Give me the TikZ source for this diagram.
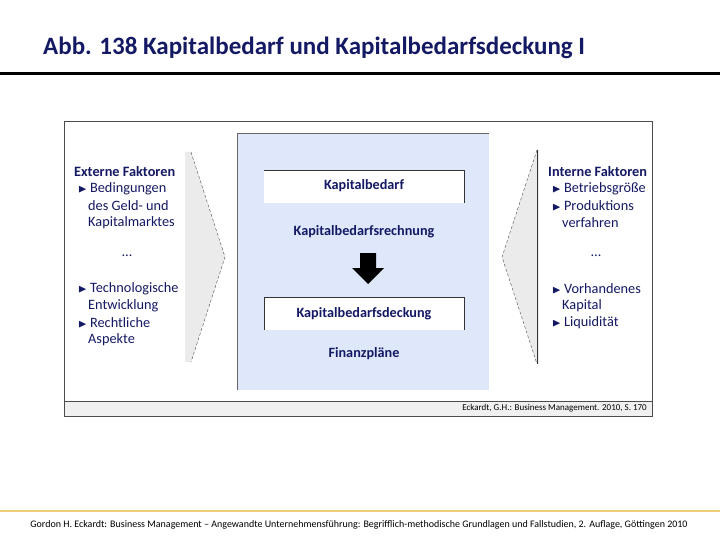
\documentclass[tikz,border=0pt]{standalone}
\usepackage{amssymb}
\usepackage{fontspec}
\setmainfont{Carlito}
\usetikzlibrary{positioning, arrows.meta}
\definecolor{NavyText}{RGB}{20, 25, 100}
\definecolor{PaleBlue}{RGB}{222, 232, 250}
\definecolor{Chevron}{RGB}{235, 235, 235}
\definecolor{FootBar}{RGB}{240, 205, 120}
\tikzset{
  item/.style={anchor=west, text=NavyText, font=\fontsize{14.3}{16}\selectfont, inner sep=0pt},
  head/.style={item, font=\fontsize{14.3}{16}\selectfont\bfseries},
  mid/.style={text=NavyText, font=\fontsize{14.2}{16}\selectfont\bfseries, inner sep=0pt},
}
\newcommand{\tri}{\raisebox{0.5pt}{\scalebox{0.8}{$\blacktriangleright$}}\hspace{3pt}}
\begin{document}
\begin{tikzpicture}[x=1pt, y=-1pt]
    \useasboundingbox (0,0) rectangle (720,540);
    % Titel
    \node[anchor=west, text=NavyText, font=\fontsize{25}{28}\selectfont\bfseries, inner sep=0pt] (title) at (43,48) {Abb. 138 Kapitalbedarf und Kapitalbedarfsdeckung I};
    \draw[line width=3pt] (0,74) -- (720,74);

    % Rahmen
    \draw[fill=white, draw=black!70, line width=1pt] (64,122) rectangle (652,416);
    \draw[fill=black!6, draw=black!70, line width=1pt] (64,401) rectangle (652,416);
    \node[anchor=east, font=\fontsize{9}{10}\selectfont, inner sep=0pt] (src) at (647,408.5) {Eckardt, G.H.: Business Management. 2010, S. 170};

    % Mitte
    \fill[PaleBlue] (237,133) rectangle (489,390);
    \draw[black!60] (237,390) -- (237,133) -- (489,133);
    \fill[white] (264,170) rectangle (464,203);
    \draw[black!80] (264,170) -- (464,170) -- (464,203);
    \fill[white] (264,297) rectangle (464,330);
    \draw[black!80] (264,330) -- (264,297) -- (464,297) -- (464,330);
    \node[mid] (bedarf) at (364,186) {Kapitalbedarf};
    \node[mid] (rechnung) at (364,232) {Kapitalbedarfsrechnung};
    \node[mid] (deckung) at (364,314) {Kapitalbedarfsdeckung};
    \node[mid] (plaene) at (364,354) {Finanzpläne};
    \fill (360,253) -- (376,253) -- (376,268) -- (384,268) -- (368,284) -- (352,268) -- (360,268) -- cycle;

    % Pfeilformen
    \fill[Chevron] (160,152) -- (191,152) -- (225,257) -- (191,362) -- (160,362) -- cycle;
    \draw[black!70, densely dashed] (191,152) -- (225,257) -- (191,362);
    \fill[Chevron] (537,150) -- (502,257) -- (537,364) -- (560,364) -- (560,150) -- cycle;
    \draw[black!70, densely dashed] (537,150) -- (502,257) -- (537,364);
    \draw[black!80] (537,150) -- (537,364);
    \fill[white] (66,124) rectangle (185,399);
    \fill[white] (539,124) rectangle (650,399);

    % Externe Faktoren
    \node[head] (ext) at (74,172) {Externe Faktoren};
    \node[item] (e1) at (78,189) {\tri Bedingungen};
    \node[item] (e2) at (88,206) {des Geld- und};
    \node[item] (e3) at (88,223) {Kapitalmarktes};
    \node[item] (e4) at (122,256) {\dots};
    \node[item] (e5) at (78,289) {\tri Technologische};
    \node[item] (e6) at (88,306) {Entwicklung};
    \node[item] (e7) at (78,323) {\tri Rechtliche};
    \node[item] (e8) at (88,340) {Aspekte};

    % Interne Faktoren
    \node[head] (int) at (548,172) {Interne Faktoren};
    \node[item] (i1) at (552,189) {\tri Betriebsgröße};
    \node[item] (i2) at (552,206) {\tri Produktions};
    \node[item] (i3) at (562,223) {verfahren};
    \node[item] (i4) at (591,256) {\dots};
    \node[item] (i5) at (552,289) {\tri Vorhandenes};
    \node[item] (i6) at (562,306) {Kapital};
    \node[item] (i7) at (552,323) {\tri Liquidität};

    % Fusszeile
    \draw[FootBar, line width=2pt] (0,511) -- (720,511);
    \node[font=\fontsize{10}{12}\selectfont, inner sep=0pt] (foot) at (359,525) {Gordon H. Eckardt: Business Management -- Angewandte Unternehmensführung: Begrifflich-methodische Grundlagen und Fallstudien, 2. Auflage, Göttingen 2010};
\end{tikzpicture}
\end{document}
